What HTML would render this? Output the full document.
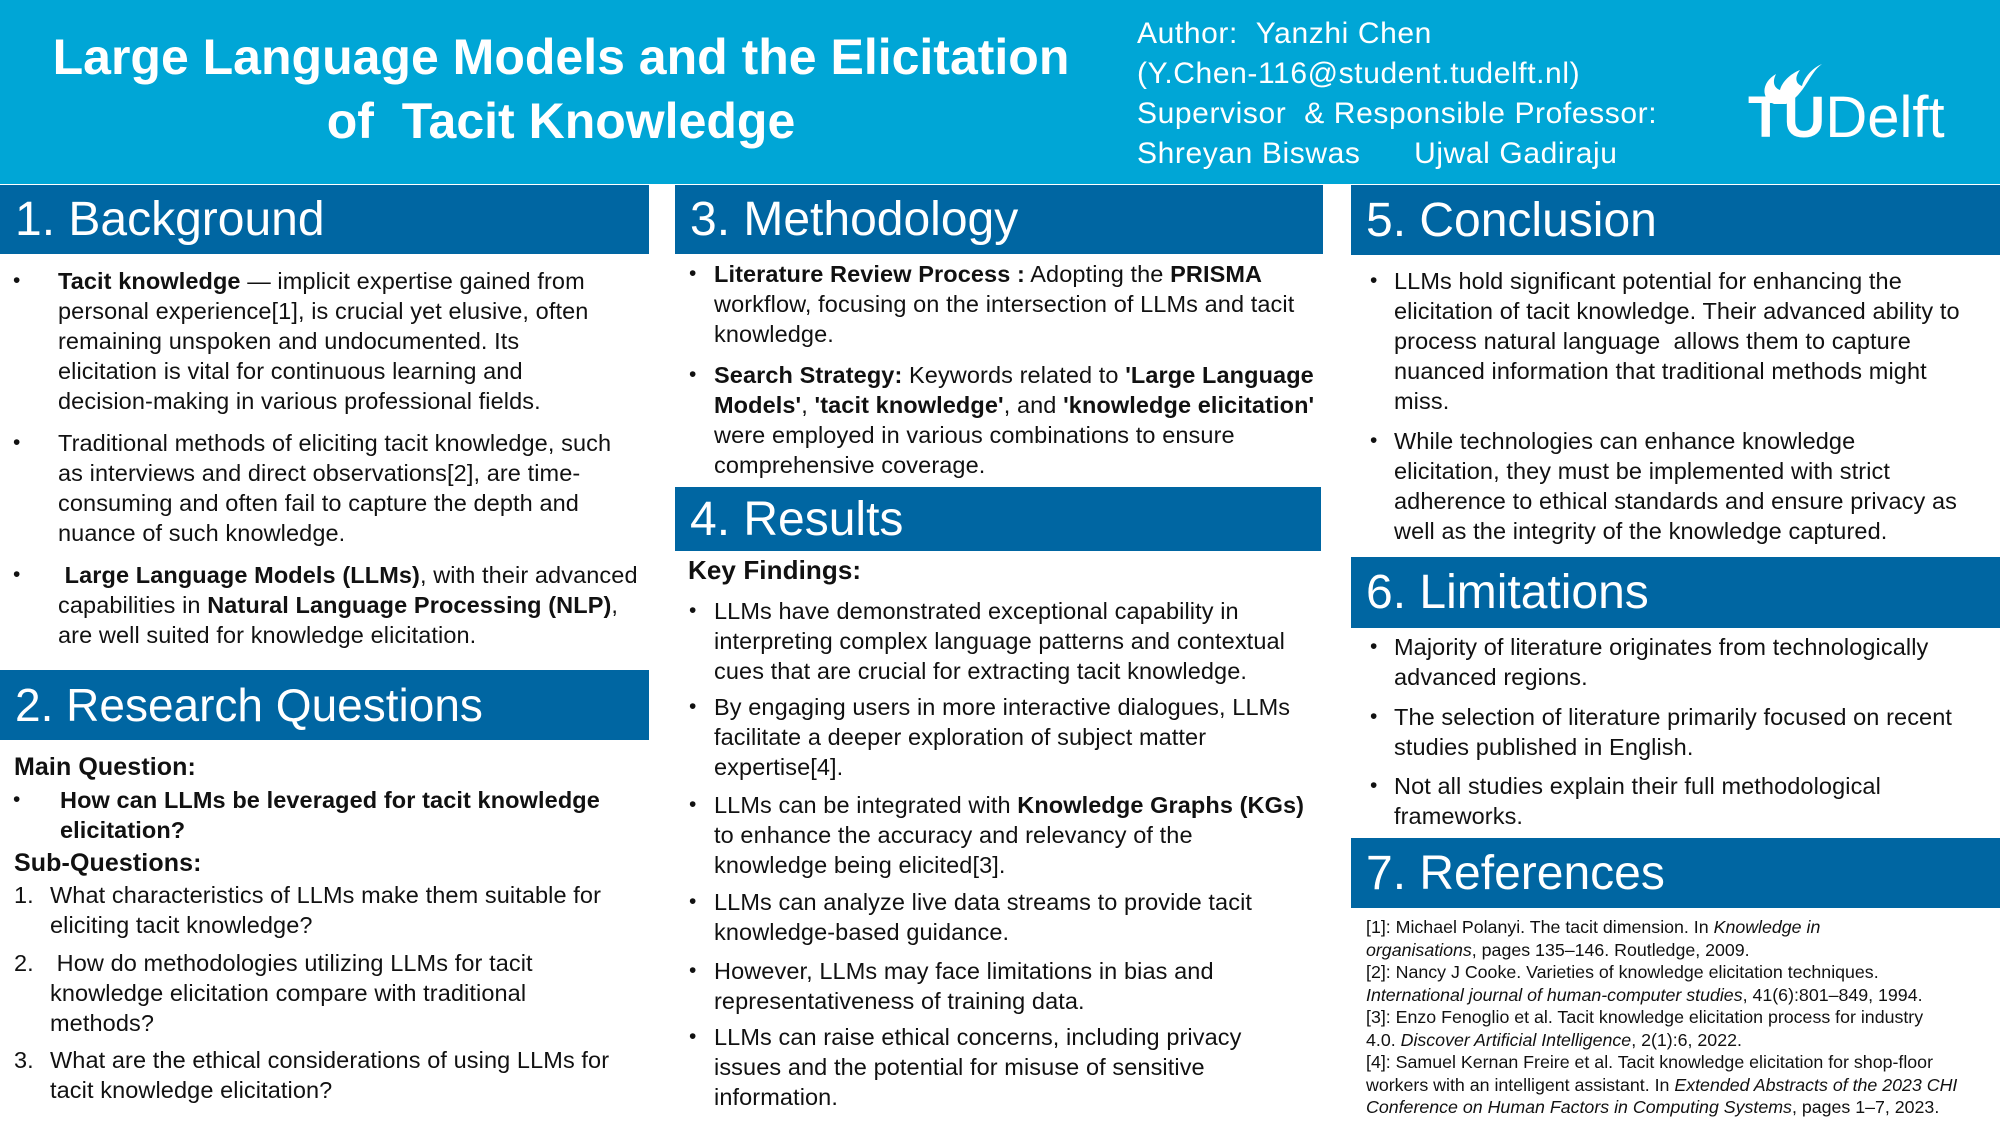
<!DOCTYPE html>
<html><head><meta charset="utf-8"><style>
*{margin:0;padding:0;box-sizing:border-box}
body{width:2000px;height:1125px;position:relative;background:#fff;font-family:"Liberation Sans",sans-serif;color:#111;overflow:hidden}
.abs{position:absolute}
#header{left:0;top:0;width:2000px;height:184px;background:#00a6d6}
.title{left:0;width:1122px;text-align:center;color:#fff;font-weight:bold;font-size:50px;white-space:nowrap}
.auth{left:1137px;color:#fff;font-size:30px;letter-spacing:0.6px;white-space:nowrap;line-height:40px}
.bar{background:#0066a2;color:#fff;font-size:48px;padding-left:15px;display:flex;align-items:center;white-space:nowrap}
.p{font-size:23.5px;line-height:30px;white-space:nowrap;letter-spacing:0.1px}
.dot{font-size:21px;line-height:30px}
.ref{font-size:17.8px;line-height:22.5px;white-space:nowrap;left:1366px}
b{font-weight:bold}
</style></head><body>
<div id="header" class="abs"></div>
<div class="abs title" style="top:28px">Large Language Models and the Elicitation<br><span style="display:inline-block;margin-top:6px">of &nbsp;Tacit Knowledge</span></div>
<div class="abs auth" style="top:14px">Author: &nbsp;Yanzhi Chen<br>(Y.Chen-116@student.tudelft.nl)<br>Supervisor &nbsp;&amp; Responsible Professor:<br>Shreyan Biswas &nbsp;&nbsp;&nbsp;&nbsp;&nbsp;Ujwal Gadiraju</div>
<div class="abs" style="left:1748px;top:58px;width:210px;height:90px;color:#fff">
<svg class="abs" style="left:8px;top:2px" width="70" height="45" viewBox="0 0 70 45"><path d="M18 44 C4 38 6 22 20 14 C16 22 18 28 24 30 C26 22 34 14 44 10 C38 18 40 24 46 26 C48 18 56 8 66 4 C52 14 50 34 30 44 Z" fill="#fff"/></svg>
<div class="abs" style="left:0;top:30px;font-size:58px;line-height:60px;white-space:nowrap"><b>TU</b>Delft</div></div>

<div class="abs bar" style="left:0;top:185px;width:649px;height:69px">1. Background</div>
<div class="abs bar" style="left:675px;top:185px;width:648px;height:69px;padding-left:15px">3. Methodology</div>
<div class="abs bar" style="left:1351px;top:185px;width:649px;height:70px">5. Conclusion</div>
<div class="abs bar" style="left:0;top:670px;width:649px;height:70px;font-size:46px">2. Research Questions</div>
<div class="abs bar" style="left:675px;top:487px;width:646px;height:64px">4. Results</div>
<div class="abs bar" style="left:1351px;top:557px;width:649px;height:71px">6. Limitations</div>
<div class="abs bar" style="left:1351px;top:838px;width:649px;height:70px">7. References</div>

<div>
<div class="abs dot" style="left:13px;top:266px">•</div>
<div class="abs p" style="left:58px;top:266px"><b>Tacit knowledge</b> — implicit expertise gained from<br>personal experience[1], is crucial yet elusive, often<br>remaining unspoken and undocumented. Its<br>elicitation is vital for continuous learning and<br>decision-making in various professional fields.</div>
<div class="abs dot" style="left:13px;top:428px">•</div>
<div class="abs p" style="left:58px;top:428px">Traditional methods of eliciting tacit knowledge, such<br>as interviews and direct observations[2], are time-<br>consuming and often fail to capture the depth and<br>nuance of such knowledge.</div>
<div class="abs dot" style="left:13px;top:560px">•</div>
<div class="abs p" style="left:58px;top:560px">&nbsp;<b>Large Language Models (LLMs)</b>, with their advanced<br>capabilities in <b>Natural Language Processing (NLP)</b>,<br>are well suited for knowledge elicitation.</div>
</div>

<div>
<div class="abs p" style="left:14px;top:752px;font-size:25px;font-weight:bold">Main Question:</div>
<div class="abs dot" style="left:13px;top:785px">•</div>
<div class="abs p" style="left:60px;top:785px;font-weight:bold">How can LLMs be leveraged for tacit knowledge<br>elicitation?</div>
<div class="abs p" style="left:14px;top:848px;font-size:25px;font-weight:bold">Sub-Questions:</div>
<div class="abs p" style="left:14px;top:880px">1.</div>
<div class="abs p" style="left:50px;top:880px">What characteristics of LLMs make them suitable for<br>eliciting tacit knowledge?</div>
<div class="abs p" style="left:14px;top:948px">2.</div>
<div class="abs p" style="left:50px;top:948px">&nbsp;How do methodologies utilizing LLMs for tacit<br>knowledge elicitation compare with traditional<br>methods?</div>
<div class="abs p" style="left:14px;top:1045px">3.</div>
<div class="abs p" style="left:50px;top:1045px">What are the ethical considerations of using LLMs for<br>tacit knowledge elicitation?</div>
</div>

<div>
<div class="abs dot" style="left:689px;top:259px">•</div>
<div class="abs p" style="left:714px;top:259px"><b>Literature Review Process :</b> Adopting the <b>PRISMA</b><br>workflow, focusing on the intersection of LLMs and tacit<br>knowledge.</div>
<div class="abs dot" style="left:689px;top:360px">•</div>
<div class="abs p" style="left:714px;top:360px"><b>Search Strategy:</b> Keywords related to <b>'Large Language<br>Models'</b>, <b>'tacit knowledge'</b>, and <b>'knowledge elicitation'</b><br>were employed in various combinations to ensure<br>comprehensive coverage.</div>
</div>

<div>
<div class="abs p" style="left:688px;top:555px;font-size:26px;font-weight:bold">Key Findings:</div>
<div class="abs dot" style="left:689px;top:596px">•</div>
<div class="abs p" style="left:714px;top:596px">LLMs have demonstrated exceptional capability in<br>interpreting complex language patterns and contextual<br>cues that are crucial for extracting tacit knowledge.</div>
<div class="abs dot" style="left:689px;top:692px">•</div>
<div class="abs p" style="left:714px;top:692px">By engaging users in more interactive dialogues, LLMs<br>facilitate a deeper exploration of subject matter<br>expertise[4].</div>
<div class="abs dot" style="left:689px;top:790px">•</div>
<div class="abs p" style="left:714px;top:790px">LLMs can be integrated with <b>Knowledge Graphs (KGs)</b><br>to enhance the accuracy and relevancy of the<br>knowledge being elicited[3].</div>
<div class="abs dot" style="left:689px;top:887px">•</div>
<div class="abs p" style="left:714px;top:887px">LLMs can analyze live data streams to provide tacit<br>knowledge-based guidance.</div>
<div class="abs dot" style="left:689px;top:956px">•</div>
<div class="abs p" style="left:714px;top:956px">However, LLMs may face limitations in bias and<br>representativeness of training data.</div>
<div class="abs dot" style="left:689px;top:1022px">•</div>
<div class="abs p" style="left:714px;top:1022px">LLMs can raise ethical concerns, including privacy<br>issues and the potential for misuse of sensitive<br>information.</div>
</div>

<div>
<div class="abs dot" style="left:1370px;top:266px">•</div>
<div class="abs p" style="left:1394px;top:266px">LLMs hold significant potential for enhancing the<br>elicitation of tacit knowledge. Their advanced ability to<br>process natural language &nbsp;allows them to capture<br>nuanced information that traditional methods might<br>miss.</div>
<div class="abs dot" style="left:1370px;top:426px">•</div>
<div class="abs p" style="left:1394px;top:426px">While technologies can enhance knowledge<br>elicitation, they must be implemented with strict<br>adherence to ethical standards and ensure privacy as<br>well as the integrity of the knowledge captured.</div>
</div>

<div>
<div class="abs dot" style="left:1370px;top:632px">•</div>
<div class="abs p" style="left:1394px;top:632px">Majority of literature originates from technologically<br>advanced regions.</div>
<div class="abs dot" style="left:1370px;top:702px">•</div>
<div class="abs p" style="left:1394px;top:702px">The selection of literature primarily focused on recent<br>studies published in English.</div>
<div class="abs dot" style="left:1370px;top:771px">•</div>
<div class="abs p" style="left:1394px;top:771px">Not all studies explain their full methodological<br>frameworks.</div>
</div>

<div class="abs ref" style="top:916px">[1]: Michael Polanyi. The tacit dimension. In <i>Knowledge in<br>organisations</i>, pages 135–146. Routledge, 2009.<br>[2]: Nancy J Cooke. Varieties of knowledge elicitation techniques.<br><i>International journal of human-computer studies</i>, 41(6):801–849, 1994.<br>[3]: Enzo Fenoglio et al. Tacit knowledge elicitation process for industry<br>4.0. <i>Discover Artificial Intelligence</i>, 2(1):6, 2022.<br>[4]: Samuel Kernan Freire et al. Tacit knowledge elicitation for shop-floor<br>workers with an intelligent assistant. In <i>Extended Abstracts of the 2023 CHI<br>Conference on Human Factors in Computing Systems</i>, pages 1–7, 2023.</div>
</body></html>
